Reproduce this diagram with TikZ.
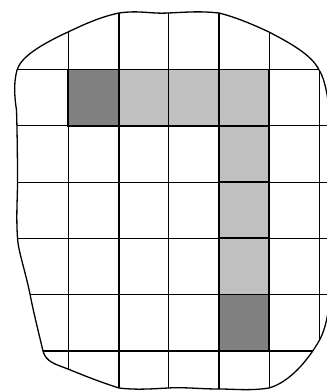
\documentclass[tikz,border=0pt]{standalone}
\definecolor{darkcell}{RGB}{128,128,128}
\definecolor{lightcell}{RGB}{192,192,192}
\begin{document}
\begin{tikzpicture}[x=1pt,y=-1pt,
  gridline/.style={line width=1.3pt, black},
  cellline/.style={line width=1.9pt, black},
  rim/.style={line width=1.3pt, black, line join=round}]
\useasboundingbox (0,0) rectangle (327,392);
\clip (0,0) rectangle (327,392);
\begin{scope}
\clip (17,70) .. controls (21,57) and (40,45) .. (68,32)
  .. controls (85,24) and (100,17) .. (119,13)
  .. controls (140,10) and (150,14) .. (168,13)
  .. controls (190,12) and (200,11) .. (219,13)
  .. controls (235,17) and (252,24) .. (269,32)
  .. controls (290,43) and (312,55) .. (319,70)
  .. controls (326,80) and (333,110) .. (333,200)
  .. controls (333,300) and (328,325) .. (319,341)
  .. controls (308,360) and (290,382) .. (269,388)
  .. controls (250,391) and (235,389) .. (219,389)
  .. controls (200,389) and (185,387) .. (168,388)
  .. controls (150,389) and (135,390) .. (119,388)
  .. controls (100,382) and (80,374) .. (68,369)
  .. controls (55,364) and (46,362) .. (43,351)
  .. controls (38,330) and (33,310) .. (30,294)
  .. controls (25,270) and (18,250) .. (17.5,238)
  .. controls (16,215) and (17.5,200) .. (17.5,182)
  .. controls (17.5,150) and (17,126) .. (16.5,110)
  .. controls (15,100) and (13,85) .. (17,70) -- cycle;
% shaded cells
\fill[darkcell] (68.3,69.5) rectangle (119,125.8);
\fill[darkcell] (219,294.5) rectangle (269.3,351);
\fill[lightcell] (119,69.5) rectangle (219,125.8);
\fill[lightcell] (219,69.5) rectangle (269.3,294.5);
% grid
\foreach \gx in {68.3,119,168.5,219,269.3,319.3}
  \draw[gridline] (\gx,0) -- (\gx,392);
\foreach \gy in {69.5,125.8,182.2,238.3,294.5,351}
  \draw[gridline] (0,\gy) -- (340,\gy);
% emphasised outlines of shaded cells
\draw[cellline] (68.3,69.5) rectangle (119,125.8);
\draw[cellline] (119,69.5) rectangle (168.5,125.8);
\draw[cellline] (168.5,69.5) rectangle (219,125.8);
\draw[cellline] (219,69.5) rectangle (269.3,125.8);
\draw[cellline] (219,125.8) rectangle (269.3,182.2);
\draw[cellline] (219,182.2) rectangle (269.3,238.3);
\draw[cellline] (219,238.3) rectangle (269.3,294.5);
\draw[cellline] (219,294.5) rectangle (269.3,351);
\end{scope}
\draw[rim] (17,70) .. controls (21,57) and (40,45) .. (68,32)
  .. controls (85,24) and (100,17) .. (119,13)
  .. controls (140,10) and (150,14) .. (168,13)
  .. controls (190,12) and (200,11) .. (219,13)
  .. controls (235,17) and (252,24) .. (269,32)
  .. controls (290,43) and (312,55) .. (319,70)
  .. controls (326,80) and (333,110) .. (333,200)
  .. controls (333,300) and (328,325) .. (319,341)
  .. controls (308,360) and (290,382) .. (269,388)
  .. controls (250,391) and (235,389) .. (219,389)
  .. controls (200,389) and (185,387) .. (168,388)
  .. controls (150,389) and (135,390) .. (119,388)
  .. controls (100,382) and (80,374) .. (68,369)
  .. controls (55,364) and (46,362) .. (43,351)
  .. controls (38,330) and (33,310) .. (30,294)
  .. controls (25,270) and (18,250) .. (17.5,238)
  .. controls (16,215) and (17.5,200) .. (17.5,182)
  .. controls (17.5,150) and (17,126) .. (16.5,110)
  .. controls (15,100) and (13,85) .. (17,70) -- cycle;
\end{tikzpicture}
\end{document}
